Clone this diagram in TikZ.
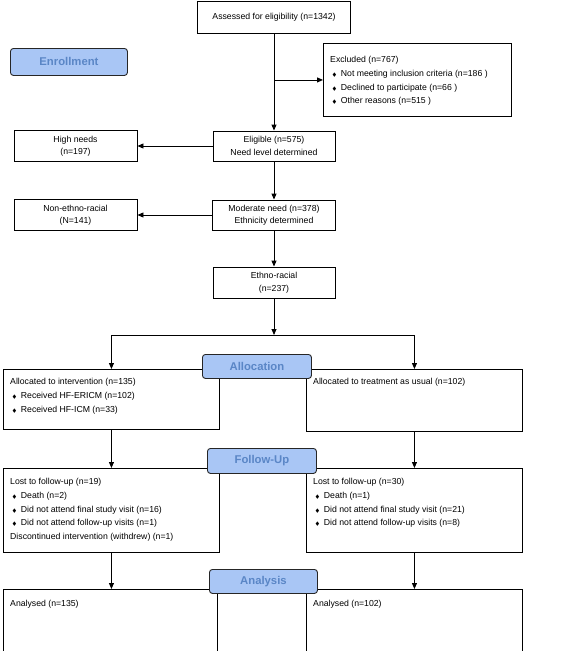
\documentclass[tikz,border=0pt]{standalone}
\usepackage{amssymb}
\usepackage{fontspec}
\setmainfont{Liberation Sans}
\usetikzlibrary{arrows.meta}

\definecolor{stagefill}{HTML}{A9C6F5}
\definecolor{stagetext}{HTML}{5A86C6}
\newcommand{\dmd}{\hspace*{2pt}{\tiny$\blacklozenge$}\hspace{4pt}}

\tikzset{
	box/.style={draw, line width=0.9pt, align=center, font=\fontsize{8.7}{12.5}\selectfont},
	listbox/.style={draw, line width=0.9pt, anchor=north west},
	listtext/.style={anchor=north west, align=left, inner xsep=7pt, inner ysep=10pt, font=\fontsize{8.7}{13.8}\selectfont},
	stage/.style={draw=black!85, line width=0.9pt, rounded corners=3pt, fill=stagefill, text=stagetext, font=\bfseries\fontsize{11.3}{13}\selectfont, anchor=north west},
	arr/.style={line width=0.9pt, -{Triangle[length=6pt,width=5pt]}}
}

\begin{document}
\begin{tikzpicture}[x=1pt, y=-1pt]
	\useasboundingbox (0,0) rectangle (567,651);

	%Enrollment:
	\node[box, minimum width=153pt, minimum height=32pt] (assess) at (274,17) {Assessed for eligibility (n=1342)};
	\node[listbox, minimum width=188pt, minimum height=73pt, label={[listtext, inner ysep=13pt]north west:{Excluded (n=767)\\\dmd Not meeting inclusion criteria (n=186 )\\\dmd Declined to participate (n=66 )\\\dmd Other reasons (n=515 )}}] (excl) at (323,43) {};
	\node[box, minimum width=122pt, minimum height=30pt] (elig) at (274,146) {Eligible (n=575)\\Need level determined};
	\node[box, minimum width=123pt, minimum height=31pt] (high) at (75.5,146) {High needs\\(n=197)};
	\node[box, minimum width=123pt, minimum height=30pt] (moder) at (274,215) {Moderate need (n=378)\\Ethnicity determined};
	\node[box, minimum width=123pt, minimum height=31pt] (nonethno) at (75.5,215) {Non-ethno-racial\\(N=141)};
	\node[box, minimum width=122pt, minimum height=31pt] (ethno) at (274,282.5) {Ethno-racial\\(n=237)};
	\coordinate (split) at (274,335);

	\draw[arr] (assess.south) -- (elig.north);
	\draw[arr] (assess.south |- excl.west) -- (excl.west);
	\draw[arr] (elig.west) -- (high.east);
	\draw[arr] (elig.south) -- (moder.north);
	\draw[arr] (moder.west) -- (nonethno.east);
	\draw[arr] (moder.south) -- (ethno.north);
	\draw[arr] (ethno.south) -- (split);

	%Allocation:
	\node[listbox, minimum width=216pt, minimum height=60pt, label={[listtext, inner ysep=9pt]north west:{Allocated to intervention (n=135)\\\dmd Received HF-ERICM (n=102)\\\dmd Received HF-ICM (n=33)}}] (alloc1) at (3,369) {};
	\node[listbox, minimum width=216pt, minimum height=62pt, label={[listtext, inner ysep=9pt]north west:{Allocated to treatment as usual (n=102)}}] (alloc2) at (306,369) {};
	\draw[arr] (split) -| (alloc1);
	\draw[arr] (split) -| (alloc2);

	%Follow-up:
	\node[listbox, minimum width=216pt, minimum height=84pt, label={[listtext]north west:{Lost to follow-up (n=19)\\\dmd Death (n=2)\\\dmd Did not attend final study visit (n=16)\\\dmd Did not attend follow-up visits (n=1)\\Discontinued intervention (withdrew) (n=1)}}] (fu1) at (3,468) {};
	\node[listbox, minimum width=216pt, minimum height=84pt, label={[listtext]north west:{Lost to follow-up (n=30)\\\dmd Death (n=1)\\\dmd Did not attend final study visit (n=21)\\\dmd Did not attend follow-up visits (n=8)}}] (fu2) at (306,468) {};
	\draw[arr] (alloc1) -- (fu1);
	\draw[arr] (alloc2) -- (fu2);

	%Analysis:
	\node[listbox, minimum width=214pt, minimum height=65pt, label={[listtext, inner ysep=11pt]north west:{Analysed (n=135)}}] (ana1) at (3,589) {};
	\node[listbox, minimum width=216pt, minimum height=65pt, label={[listtext, inner ysep=11pt]north west:{Analysed (n=102)}}] (ana2) at (306,589) {};
	\draw[arr] (fu1.south) -- (fu1.south |- ana1.north);
	\draw[arr] (fu2.south) -- (fu2.south |- ana2.north);

	%stage labels
	\node[stage, minimum width=117pt, minimum height=27pt] (enroll) at (10,48) {Enrollment};
	\node[stage, minimum width=109pt, minimum height=24pt] (allocation) at (202,354) {Allocation};
	\node[stage, minimum width=109pt, minimum height=25pt] (followup) at (207,448) {Follow-Up};
	\node[stage, minimum width=108pt, minimum height=24pt] (analysis) at (209,569) {Analysis};
\end{tikzpicture}
\end{document}
